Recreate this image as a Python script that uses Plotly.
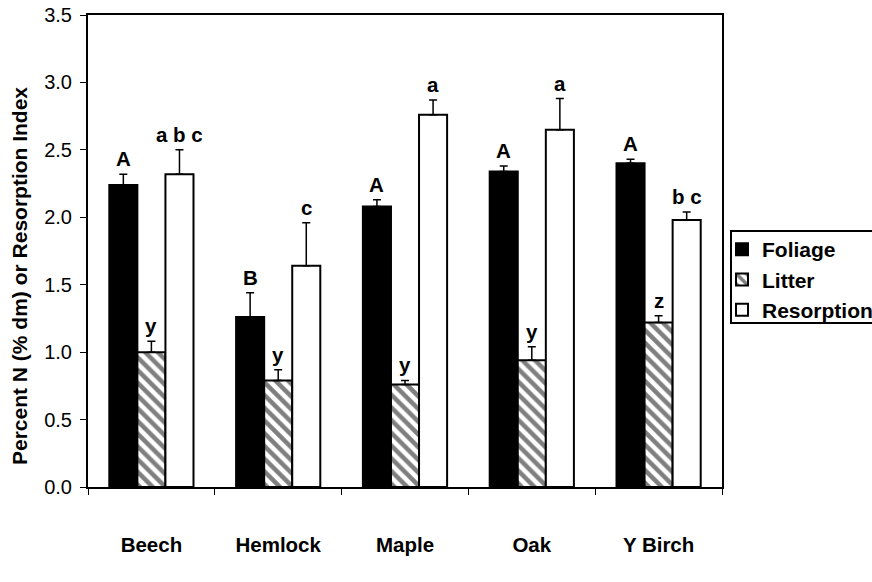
import plotly.graph_objects as go

categories = ["Beech", "Hemlock", "Maple", "Oak", "Y Birch"]
foliage = [2.24, 1.26, 2.08, 2.34, 2.40]
foliage_err = [0.08, 0.18, 0.05, 0.04, 0.03]
litter = [1.00, 0.79, 0.76, 0.94, 1.22]
litter_err = [0.08, 0.08, 0.03, 0.10, 0.05]
resorption = [2.32, 1.64, 2.76, 2.65, 1.98]
resorption_err = [0.18, 0.32, 0.11, 0.23, 0.06]
foliage_lbl = ["A", "B", "A", "A", "A"]
litter_lbl = ["y", "y", "y", "y", "z"]
resorption_lbl = ["a b c", "c", "a", "a", "b c"]
y_title = "Percent N (% dm) or Resorption Index"

FONT = "Liberation Sans, Arial, sans-serif"
L, R, T, B = 88, 722, 15, 487
PW, PH = R - L, B - T

def err(vals):
    return dict(type="data", array=vals, arrayminus=[0]*len(vals), symmetric=False,
                color="black", thickness=1.5, width=4)

fig = go.Figure()
fig.add_trace(go.Bar(name="Foliage", x=categories, y=foliage, error_y=err(foliage_err),
                     marker=dict(color="black", line=dict(color="black", width=2))))
fig.add_trace(go.Bar(name="Litter", x=categories, y=litter, error_y=err(litter_err),
                     marker=dict(color="white", line=dict(color="black", width=2),
                                 pattern=dict(shape="\\", fgcolor="black", bgcolor="white",
                                              size=9, solidity=0.5))))
fig.add_trace(go.Bar(name="Resorption", x=categories, y=resorption, error_y=err(resorption_err),
                     marker=dict(color="white", line=dict(color="black", width=2))))

bargap = 0.336
bw = (1 - bargap) / 3
annotations = []
for series, errs, lbls, off in [(foliage, foliage_err, foliage_lbl, -bw),
                                 (litter, litter_err, litter_lbl, 0.0),
                                 (resorption, resorption_err, resorption_lbl, bw)]:
    for i, (v, e, t) in enumerate(zip(series, errs, lbls)):
        annotations.append(dict(x=i + off, y=v + e, text="<b>%s</b>" % t, showarrow=False,
                                xref="x", yref="y", yanchor="bottom", yshift=2,
                                font=dict(family=FONT, size=20.5, color="black")))
annotations.append(dict(x=(19 - L) / PW, y=(B - 276) / PH, xref="paper", yref="paper",
                        text="<b>%s</b>" % y_title, textangle=-90, showarrow=False,
                        xanchor="center", yanchor="middle",
                        font=dict(family=FONT, size=21, color="black")))

fig.update_layout(
    width=872, height=582,
    margin=dict(l=L, r=872 - R, t=T, b=582 - B, autoexpand=False),
    paper_bgcolor="white", plot_bgcolor="white",
    barmode="group", bargap=bargap, bargroupgap=0,
    font=dict(family=FONT, color="black"),
    annotations=annotations,
    shapes=[dict(type="rect", xref="paper", yref="paper",
                 x0=(731 - L) / PW, x1=(890 - L) / PW,
                 y0=(B - 323) / PH, y1=(B - 231) / PH,
                 line=dict(color="black", width=2), fillcolor="rgba(0,0,0,0)")],
    legend=dict(x=(722 - L) / PW, y=(B - 229) / PH, xanchor="left", yanchor="top",
                borderwidth=0, bgcolor="rgba(0,0,0,0)",
                font=dict(family=FONT, size=21, color="black", weight="bold"),
                itemwidth=30, tracegroupgap=0),
    showlegend=True,
)
fig.update_xaxes(
    type="category", showline=True, linecolor="black", linewidth=2, mirror=True,
    ticks="outside", tickson="boundaries", ticklen=6, tickcolor="black", tickwidth=1,
    tickfont=dict(family=FONT, size=20.5, color="black", weight="bold"),
    ticklabelstandoff=38, showgrid=False,
)
fig.update_yaxes(
    range=[0, 3.5], dtick=0.5, tickformat=".1f", showline=True, linecolor="black",
    linewidth=2, mirror=True, ticks="outside", ticklen=6, tickcolor="black", tickwidth=1,
    tickfont=dict(family=FONT, size=20, color="black"), showgrid=False, zeroline=False,
    ticklabelstandoff=4,
)

fig.write_html("out.html")
